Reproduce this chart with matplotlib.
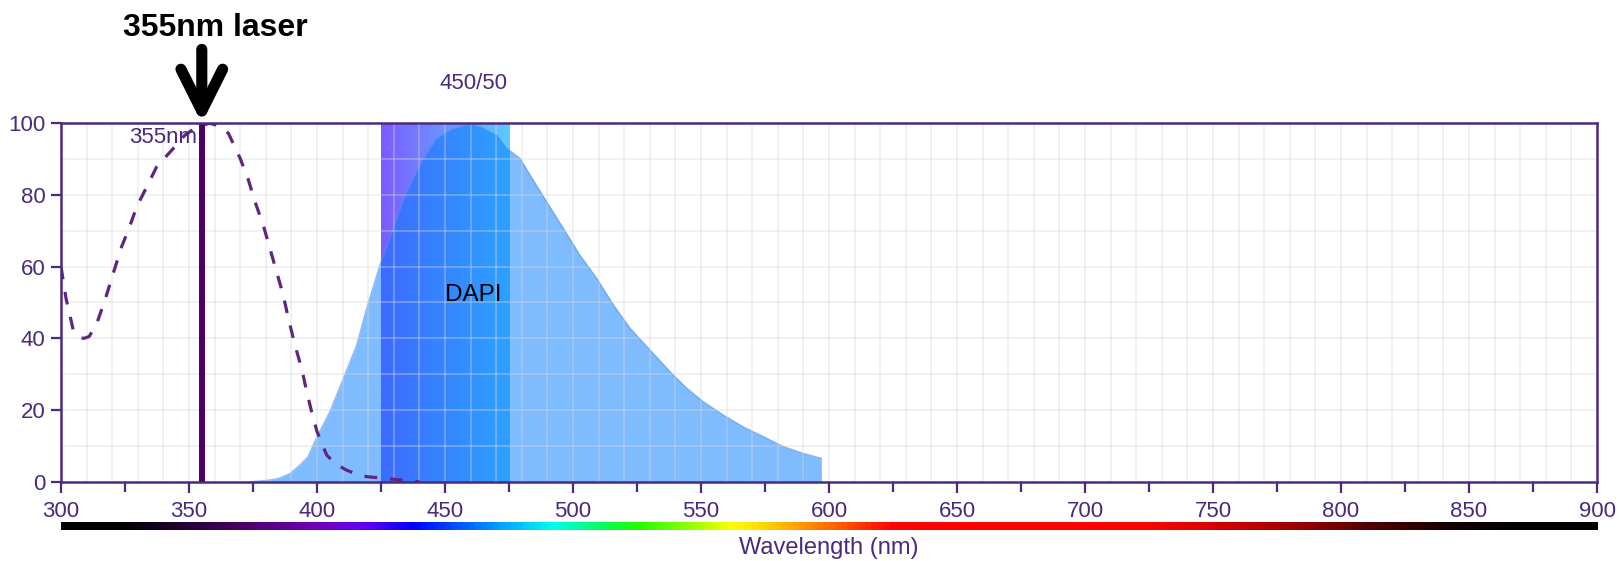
import numpy as np
import matplotlib.pyplot as plt
from matplotlib.colors import LinearSegmentedColormap, to_rgb
from matplotlib.transforms import blended_transform_factory

plt.rcParams['font.family'] = ['Liberation Sans', 'DejaVu Sans']

PURPLE = '#4a2a7e'

# DAPI excitation (dashed)
ex_nm = [300, 302, 304.8, 307, 309, 311, 314, 317.2, 320.4, 323.7, 326.3, 329.6, 333.5,
         337.4, 343.9, 348.4, 353, 358, 362, 365.4, 370, 373.2, 375.8, 379, 381.6, 384.2,
         386.8, 388.8, 391.4, 394, 396, 397.9, 400, 403.8, 407, 411, 415, 419.4, 427, 436, 440]
ex_val = [60, 51, 42.3, 40.2, 40, 40.5, 44.2, 50.7, 58.1, 65.6, 70.2, 76.7, 82.3,
          87.9, 93, 96.7, 99, 100, 99.3, 97.2, 90.2, 84.2, 78.1, 71.6, 65.1, 58.6,
          52.1, 45.6, 38.1, 31.6, 25.1, 19.5, 14, 7.4, 5.2, 3.4, 2.2, 1.4, 0.9, 0.2, 0]

# DAPI emission (filled)
em_nm = [374, 378, 382, 385.5, 389.5, 393.4, 396.5, 400, 405, 410.3, 415.5, 419.4, 424.6,
         429.8, 435, 441.5, 446.7, 453.2, 459.8, 463.7, 470.2, 474.1, 479.3, 483.2, 489.7,
         496.2, 502.7, 509.3, 515.8, 522.3, 530, 537.9, 544.4, 550.9, 558.7, 566.5, 574.3,
         582.1, 589.9, 597, 597.01]
em_val = [0, 0.2, 0.5, 1, 2.3, 4.7, 7, 12.5, 19.5, 28.8, 38.1, 48.4, 60.5,
          70.7, 80.9, 90.2, 95.8, 98.6, 99.8, 99, 96.7, 93, 90.2, 85.6, 78.1,
          70.7, 63.2, 56.7, 49.3, 42.8, 36.8, 30.7, 26.1, 22.3, 18.6, 15.3, 12.6,
          9.8, 7.9, 6.5, 0]

laser_nm = 355
filter_lo, filter_hi = 425, 475
filter_colors = ['#7b5cff', '#5bcbff']

# visible spectrum strip under the axis
spec_nm = [300, 323, 340, 360, 380, 400, 416, 437, 457, 478, 492, 510, 525, 545, 562,
           580, 595, 610, 625, 725, 765, 790, 815, 843, 870, 900]
spec_col = ['#000000', '#000000', '#1a0022', '#3a0052', '#5a0082', '#7400b8', '#6a00f0',
            '#0000ff', '#0060ff', '#00c0ff', '#00ffee', '#00ff60', '#20ff00', '#90ff00',
            '#ffff00', '#ffc000', '#ff8000', '#ff4000', '#ff0000', '#ff0000', '#c00000',
            '#8a0000', '#4a0000', '#150000', '#000000', '#000000']

fig = plt.figure(figsize=(16.22, 5.61), dpi=100)
ax = fig.add_axes([0.0376, 0.1414, 0.9470, 0.6388])

# filter band gradient
c0, c1 = np.array(to_rgb(filter_colors[0])), np.array(to_rgb(filter_colors[1]))
t = np.linspace(0, 1, 256)
grad = (c0[None, :] * (1 - t[:, None]) + c1[None, :] * t[:, None])[None, :, :]
ax.imshow(grad, extent=[filter_lo, filter_hi, 0, 100], aspect='auto', zorder=1,
          interpolation='bilinear')

ax.fill_between(em_nm, em_val, 0, color='#0079ff', alpha=0.5, lw=0, zorder=2)
ax.plot(em_nm[:-1], em_val[:-1], color='#4a90e8', lw=1, alpha=0.6, zorder=2)

ax.plot(ex_nm, ex_val, color='#60267f', lw=2.3, dashes=(4, 4), zorder=4)
ax.plot([laser_nm, laser_nm], [0, 100], color='#4b0068', lw=4.3, zorder=4,
        solid_capstyle='butt')

ax.set_xlim(300, 900)
ax.set_ylim(0, 100)
ax.set_xticks(np.arange(300, 901, 50))
ax.set_xticks(np.arange(325, 900, 50), minor=True)
ax.set_yticks(np.arange(0, 101, 20))

# grid on top so it shows through the fills
for g in np.arange(310, 900, 10):
    ax.axvline(g, color='#d8d8d8', lw=1.1, alpha=0.45, zorder=3)
for g in np.arange(10, 100, 10):
    ax.axhline(g, color='#d8d8d8', lw=1.1, alpha=0.45, zorder=3)

for s in ax.spines.values():
    s.set_color(PURPLE)
    s.set_linewidth(1.8)
    s.set_zorder(5)
ax.tick_params(axis='both', which='both', colors=PURPLE, labelsize=16, width=1.6)
ax.tick_params(axis='x', which='major', length=8, pad=6)
ax.tick_params(axis='x', which='minor', length=7)
ax.tick_params(axis='y', length=7, pad=4)

ax.text(353, 96, '355nm', color=PURPLE, fontsize=16, ha='right', va='center', zorder=6)
ax.text(461, 52, 'DAPI', color='black', fontsize=17.5, ha='center', va='center', zorder=6)

bt = blended_transform_factory(ax.transData, fig.transFigure)
ax.text(461, 0.852, '450/50', color=PURPLE, fontsize=16, ha='center', va='center',
        transform=bt)

fig.text(0.1326, 0.95, '355nm laser', fontsize=23, fontweight='bold', ha='center',
         va='center')
ax.annotate('', xy=(laser_nm, 100), xycoords='data',
            xytext=(laser_nm, 0.912), textcoords=('data', 'figure fraction'),
            arrowprops=dict(arrowstyle='->,head_length=1.5,head_width=0.75',
                            lw=8, color='black', shrinkA=0, shrinkB=0,
                            mutation_scale=20),
            annotation_clip=False)

# spectrum strip
cax = fig.add_axes([0.0376, 0.0553, 0.9470, 0.0148])
pos = [(n - 300) / 600 for n in spec_nm]
cmap = LinearSegmentedColormap.from_list('spec', list(zip(pos, spec_col)))
cax.imshow(np.linspace(0, 1, 1024)[None, :], cmap=cmap, aspect='auto',
           extent=[300, 900, 0, 1])
cax.set_axis_off()

fig.text(0.511, 0.004, 'Wavelength (nm)', color=PURPLE, fontsize=17, ha='center',
         va='bottom')

fig.savefig('out.png', dpi=100)
